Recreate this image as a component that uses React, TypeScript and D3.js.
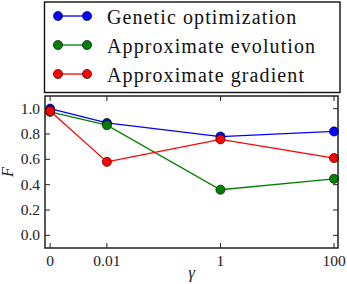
import React from 'react';
import * as d3 from 'd3';

// gamma values (0 is drawn at the 1e-3 slot of a log axis)
const gammas = [0, 0.01, 1, 100];
const gammaLabels = ['0', '0.01', '1', '100'];
const seriesNames = ['Genetic optimization', 'Approximate evolution', 'Approximate gradient'];
const seriesColors = ['#0000ff', '#008000', '#ff0000'];
const geneticValues = [1.0, 0.887, 0.78, 0.82];
const evolutionValues = [0.975, 0.87, 0.36, 0.446];
const gradientValues = [0.982, 0.58, 0.758, 0.61];
const yTicks = [0.0, 0.2, 0.4, 0.6, 0.8, 1.0];

const W = 347;
const H = 284;
const margin = { top: 96, right: 9, bottom: 36, left: 45 };
const FONT = 'Liberation Serif';

const toSlot = (g: number) => (g === 0 ? -3 : Math.log10(g));

const App: React.FC = () => {
  const innerWidth = W - margin.left - margin.right;
  const innerHeight = H - margin.top - margin.bottom;

  const x = d3.scaleLinear().domain([-3.09, 2.07]).range([0, innerWidth]);
  const y = d3.scaleLinear().domain([-0.1, 1.1]).range([innerHeight, 0]);

  const line = d3.line<number>()
    .x((d, i) => x(toSlot(gammas[i])))
    .y(d => y(d));

  const allValues = [geneticValues, evolutionValues, gradientValues];
  const tickLen = 5;
  const rowY = [16, 45, 74];

  return (
    <svg
      width={W}
      height={H}
      fontFamily={FONT}
      style={{ position: 'absolute', left: 0, top: 0, background: '#fff' }}
    >
      <g transform={`translate(${margin.left},${margin.top})`}>
        {/* ticks on all four sides, pointing inward */}
        {gammas.map(v => {
          const px = x(toSlot(v));
          return (
            <g key={`xt${v}`} stroke="#222" strokeWidth={1}>
              <line x1={px} x2={px} y1={innerHeight} y2={innerHeight - tickLen} />
              <line x1={px} x2={px} y1={0} y2={tickLen} />
            </g>
          );
        })}
        {yTicks.map(v => {
          const py = y(v);
          return (
            <g key={`yt${v}`} stroke="#222" strokeWidth={1}>
              <line x1={0} x2={tickLen} y1={py} y2={py} />
              <line x1={innerWidth} x2={innerWidth - tickLen} y1={py} y2={py} />
            </g>
          );
        })}

        {gammas.map((v, i) => (
          <text key={`xl${v}`} x={x(toSlot(v))} y={innerHeight + 18} textAnchor="middle"
            fontFamily={FONT} fontSize={15.5} fill="#222">{gammaLabels[i]}</text>
        ))}
        {yTicks.map(v => (
          <text key={`yl${v}`} x={-5} y={y(v) + 5} textAnchor="end"
            fontFamily={FONT} fontSize={15.5} fill="#222">{v.toFixed(1)}</text>
        ))}

        {allValues.map((vals, s) => (
          <g key={`s${s}`}>
            <path d={line(vals) || ''} fill="none" stroke={seriesColors[s]} strokeWidth={1.3} />
            {vals.map((d, i) => (
              <circle key={i} cx={x(toSlot(gammas[i]))} cy={y(d)} r={4.6}
                fill={seriesColors[s]} stroke="#000" strokeWidth={0.6} />
            ))}
          </g>
        ))}

        <rect width={innerWidth} height={innerHeight} fill="none" stroke="#222" strokeWidth={1.5} />

        {/* axis labels, centred on the axes */}
        <text transform={`translate(-32,${innerHeight / 2}) rotate(-90)`} textAnchor="middle" fontFamily={FONT}
          fontStyle="italic" fontSize={16} fill="#222">F</text>
        <text x={innerWidth / 2} y={innerHeight + 30} textAnchor="middle" fontFamily={FONT}
          fontStyle="italic" fontSize={17} fill="#222">γ</text>
      </g>

      {/* legend */}
      <rect x={44.5} y={2} width={295.5} height={90.5} fill="#fff" stroke="#111" strokeWidth={1.4} />
      {seriesNames.map((name, s) => {
        const ry = rowY[s];
        return (
          <g key={name}>
            <line x1={58} x2={87} y1={ry} y2={ry} stroke={seriesColors[s]} strokeWidth={1.3} />
            {[58, 87].map(cx => (
              <circle key={cx} cx={cx} cy={ry} r={4.6} fill={seriesColors[s]} stroke="#000" strokeWidth={0.6} />
            ))}
            <text x={107} y={ry + 8} fontFamily={FONT} fontSize={20} letterSpacing={1.1} fill="#111">{name}</text>
          </g>
        );
      })}
    </svg>
  );
};

export default App;
